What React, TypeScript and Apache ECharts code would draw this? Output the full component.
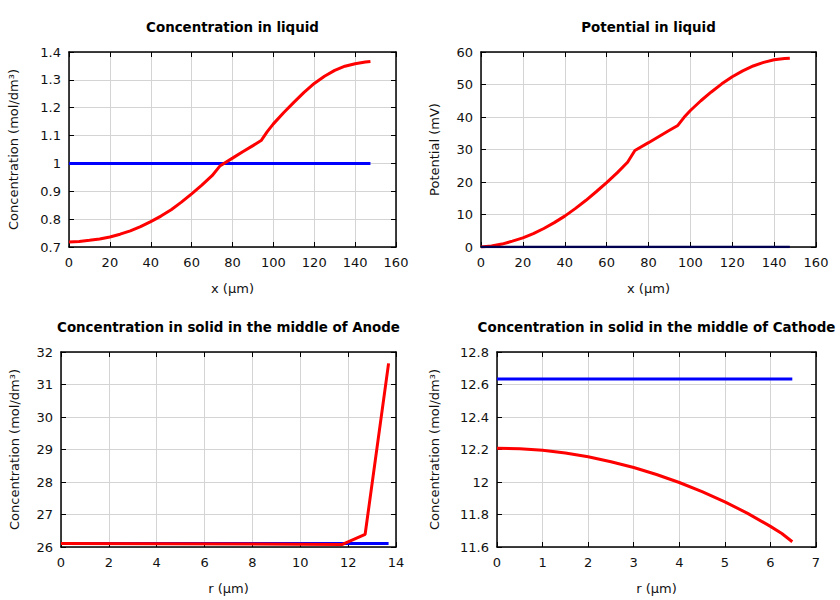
import React, { useEffect, useRef } from "react";
import * as echarts from "echarts";

// Panel 1: Concentration in liquid
const liqConcX = [0, 5, 10, 15, 20, 25, 30, 35, 40, 45, 50, 55, 60, 65, 70, 74, 80, 85, 90, 94, 97, 100, 105, 110, 115, 120, 125, 130, 135, 140, 145, 147.5];
const liqConcRed = [0.718, 0.72, 0.724, 0.729, 0.736, 0.746, 0.758, 0.773, 0.791, 0.811, 0.834, 0.861, 0.891, 0.922, 0.956, 0.992, 1.019, 1.042, 1.064, 1.082, 1.114, 1.142, 1.182, 1.219, 1.255, 1.287, 1.313, 1.334, 1.349, 1.358, 1.364, 1.366];
const liqConcBlueX = [0, 147.5];
const liqConcBlue = [1, 1];

// Panel 2: Potential in liquid
const liqPotX = [0, 5, 10, 15, 20, 25, 30, 35, 40, 45, 50, 55, 60, 65, 70, 73.5, 80, 85, 90, 94, 97, 100, 105, 110, 115, 120, 125, 130, 135, 140, 145, 147.5];
const liqPotRed = [0, 0.3, 0.9, 1.8, 2.8, 4.1, 5.7, 7.5, 9.5, 11.8, 14.3, 17.0, 19.8, 22.8, 26.1, 29.7, 32.1, 34.0, 35.9, 37.4, 39.9, 42.0, 45.0, 47.7, 50.2, 52.4, 54.2, 55.7, 56.8, 57.6, 58.0, 58.1];
const liqPotZeroX = [0, 147.5];
const liqPotZero = [0, 0];

// Panel 3: Concentration in solid, Anode
const anodeR = [0, 11.76, 12.71, 13.69];
const anodeRed = [26.11, 26.08, 26.39, 31.65];
const anodeBlueR = [0, 13.69];
const anodeBlue = [26.11, 26.11];

// Panel 4: Concentration in solid, Cathode
const cathR = [0, 0.5, 1, 1.5, 2, 2.5, 3, 3.5, 4, 4.5, 5, 5.5, 6, 6.25, 6.48];
const cathRed = [12.208, 12.205, 12.195, 12.178, 12.155, 12.125, 12.089, 12.046, 11.997, 11.941, 11.878, 11.807, 11.727, 11.683, 11.632];
const cathBlueR = [0, 6.48];
const cathBlue = [12.634, 12.634];

const titles = [
  "Concentration in liquid",
  "Potential in liquid",
  "Concentration in solid in the middle of Anode",
  "Concentration in solid in the middle of Cathode",
];
const xNames = ["x (µm)", "x (µm)", "r (µm)", "r (µm)"];
const yNames = ["Concentration (mol/dm³)", "Potential (mV)", "Concentration (mol/dm³)", "Concentration (mol/dm³)"];
const xRanges = [
  [0, 160, 20],
  [0, 160, 20],
  [0, 14, 2],
  [0, 7, 1],
];
const yRanges = [
  [0.7, 1.4, 0.1],
  [0, 60, 10],
  [26, 32, 1],
  [11.6, 12.8, 0.2],
];

const zip = (xs: number[], ys: number[]) => xs.map((x, i) => [x, ys[i]]);

const FONT = "DejaVu Sans";

export default function App() {
  const ref = useRef<HTMLDivElement>(null);
  useEffect(() => {
    document.body.style.margin = "0";
    const chart = echarts.init(ref.current!, null, { renderer: "svg" });
    const grids = [
      { left: 69, top: 52, width: 327, height: 195 },
      { left: 481, top: 52, width: 335, height: 195 },
      { left: 61, top: 352, width: 335, height: 195 },
      { left: 497, top: 352, width: 319, height: 195 },
    ];
    const yNameGaps = [49, 40, 40.5, 56.5];
    const xAxes: any[] = [];
    const yAxes: any[] = [];
    const axisLine = { show: true, onZero: false, lineStyle: { color: "#000", width: 1.5 } };
    const axisTick = { show: true, inside: true, length: 5, lineStyle: { color: "#000", width: 1 } };
    const splitLine = { show: true, lineStyle: { color: "#d4d4d4", width: 1 } };
    const labelStyle = { fontFamily: FONT, fontSize: 13, color: "#111" };
    for (let i = 0; i < 4; i++) {
      const [xmin, xmax, xint] = xRanges[i];
      const [ymin, ymax, yint] = yRanges[i];
      xAxes.push({
        type: "value", gridIndex: i, position: "bottom", min: xmin, max: xmax, interval: xint,
        axisLine, axisTick, splitLine,
        axisLabel: { ...labelStyle, margin: 9 },
        name: xNames[i], nameLocation: "middle", nameGap: 35,
        nameTextStyle: { fontFamily: FONT, fontSize: 13, color: "#111" },
      });
      xAxes.push({
        type: "value", gridIndex: i, position: "top", min: xmin, max: xmax, interval: xint,
        axisLine, axisTick, splitLine: { show: false }, axisLabel: { show: false },
      });
      yAxes.push({
        type: "value", gridIndex: i, position: "left", min: ymin, max: ymax, interval: yint,
        axisLine, axisTick, splitLine,
        axisLabel: { ...labelStyle, margin: 8 },
        name: yNames[i], nameLocation: "middle", nameGap: yNameGaps[i],
        nameTextStyle: { fontFamily: FONT, fontSize: 13, color: "#111" },
      });
      yAxes.push({
        type: "value", gridIndex: i, position: "right", min: ymin, max: ymax, interval: yint,
        axisLine, axisTick, splitLine: { show: false }, axisLabel: { show: false },
      });
    }
    const line = (i: number, data: number[][], color: string, width = 3) => ({
      type: "line",
      xAxisIndex: i * 2,
      yAxisIndex: i * 2,
      data,
      showSymbol: false,
      symbol: "none",
      lineStyle: { color, width },
      itemStyle: { color },
      silent: true,
    });
    const titleCenters = [
      [232.5, 21],
      [648.5, 21],
      [228.5, 321],
      [656.5, 321],
    ];
    chart.setOption({
      animation: false,
      backgroundColor: "#fff",
      title: titles.map((t, i) => ({
        text: t,
        left: titleCenters[i][0],
        top: titleCenters[i][1],
        textAlign: "center",
        padding: 0,
        textStyle: { fontFamily: FONT, fontSize: 13.4, fontWeight: "bold", color: "#000" },
      })),
      grid: grids,
      xAxis: xAxes,
      yAxis: yAxes,
      series: [
        line(0, zip(liqConcBlueX, liqConcBlue), "#0000ff"),
        line(0, zip(liqConcX, liqConcRed), "#ff0000"),
        line(1, zip(liqPotX, liqPotRed), "#ff0000"),
        line(1, zip(liqPotZeroX, liqPotZero), "#000050", 2.5),
        line(2, zip(anodeBlueR, anodeBlue), "#0000ff"),
        line(2, zip(anodeR, anodeRed), "#ff0000"),
        line(3, zip(cathBlueR, cathBlue), "#0000ff"),
        line(3, zip(cathR, cathRed), "#ff0000"),
      ],
    });
    return () => chart.dispose();
  }, []);
  return <div ref={ref} style={{ width: 840, height: 600 }} />;
}
